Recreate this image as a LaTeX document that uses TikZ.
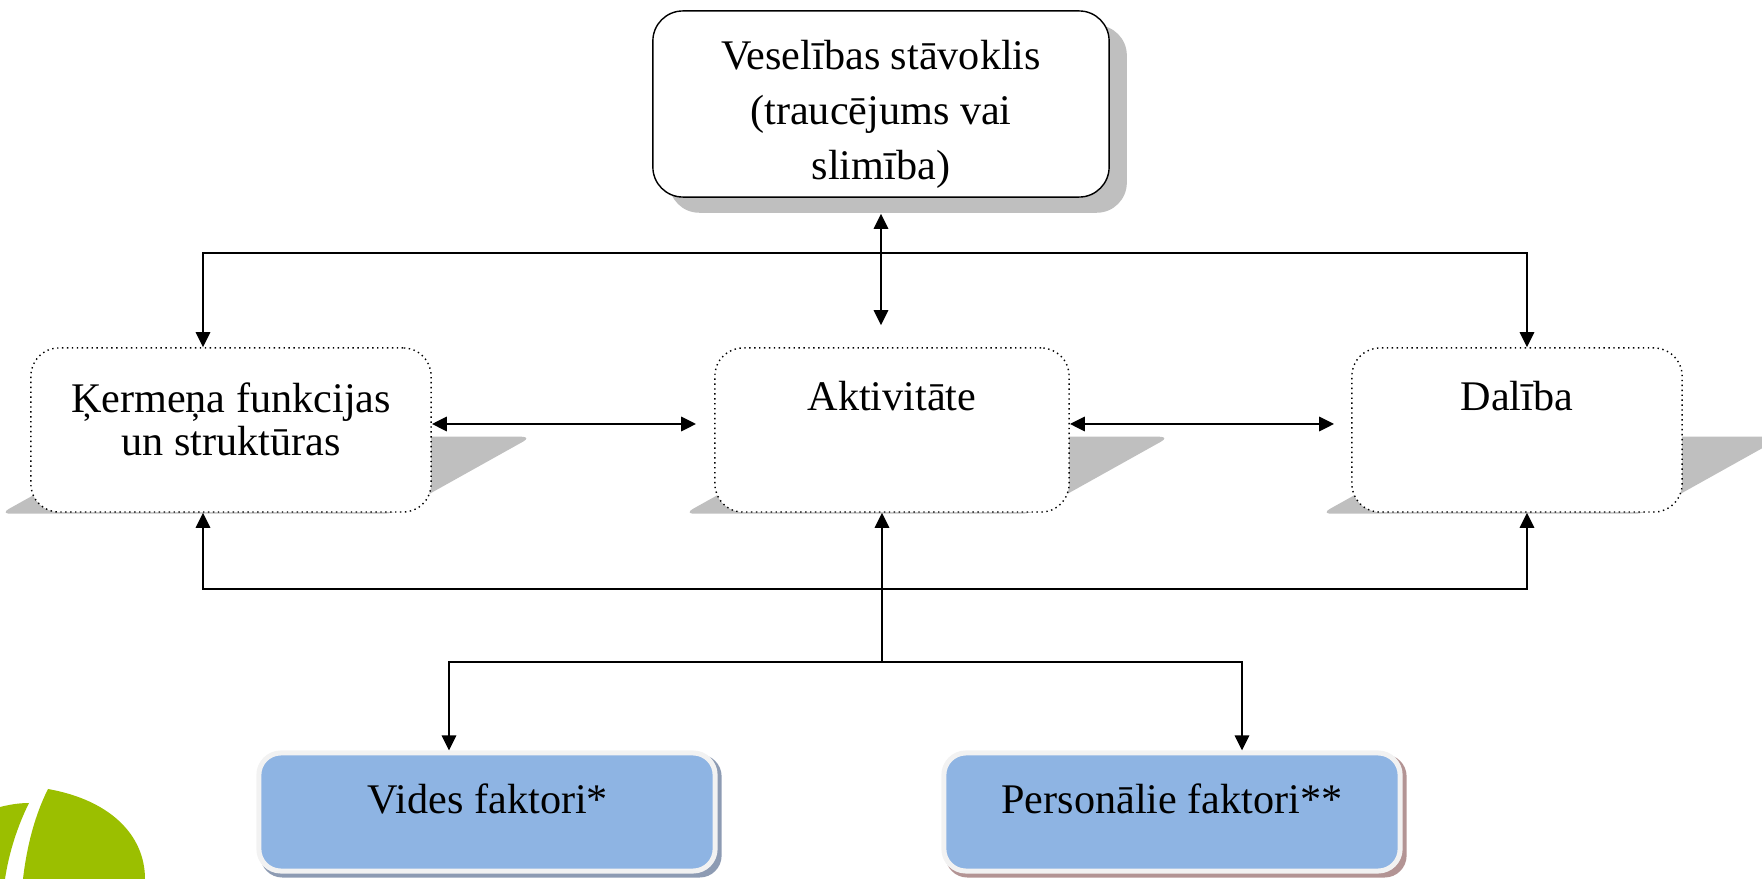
\documentclass[tikz,border=0pt]{standalone}
\usepackage{fontspec}
\setmainfont{Liberation Serif}
\usepackage{tikz}
\usetikzlibrary{arrows.meta,calc,backgrounds}
\definecolor{shadowgray}{HTML}{BFBFBF}
\definecolor{factorblue}{HTML}{8EB4E3}
\definecolor{framegray}{HTML}{F2F2F2}
\definecolor{envshadow}{HTML}{8D9BB3}
\definecolor{persshadow}{HTML}{B39494}
\definecolor{logogreen}{HTML}{9BBF00}
\newcommand{\Ena}[1]{
\fill [shadowgray,rounded corners=0.1cm]
($(#1.south west)+(-30,1)$) -- ($(#1.south east)+(-38,1)$)
-- ($(#1.south east)+(100,-76)$) -- ($(#1.south west)+(108,-76)$) -- cycle;
}

\begin{document}
\begin{tikzpicture}[x=0.01cm,y=-0.01cm,>={Triangle[length=0.15cm,width=0.14cm]},
every node/.style={font=\fontsize{12}{15.6}\selectfont},
lodzins/.style={draw,densely dotted,fill=white,rounded corners=0.28cm,minimum height=1.64cm},
faktors/.style={draw=framegray,line width=0.05cm,fill=factorblue,rounded corners=0.22cm,minimum width=4.56cm,minimum height=1.18cm},
bulta/.style={line width=0.85pt}]
\useasboundingbox (0,0) rectangle (1762,879);

\node[draw,fill=white,rounded corners=0.3cm,minimum width=4.56cm,minimum height=1.86cm] (veseliba) at (881,104) {};
\node[align=center] (veselibaT) at (881,114) {Veselības stāvoklis\\(traucējums vai\\slimība)};
\node[lodzins,minimum width=4cm] (kermenis) at (231,430) {};
\node[lodzins,minimum width=3.54cm] (aktivitate) at (892,430) {};
\node[lodzins,minimum width=3.3cm] (daliba) at (1517,430) {};
\node[align=center,font=\fontsize{12}{12.2}\selectfont] (kermenisT) at (231,419) {Ķermeņa funkcijas\\un struktūras};
\node (aktivitateT) at (892,396) {Aktivitāte};
\node (dalibaT) at (1517,396) {Dalība};
\node[faktors] (vide) at (487,812) {};
\node[faktors] (personalie) at (1172,812) {};
\node (videT) at (488,799) {Vides faktori*};
\node (personalieT) at (1172,799) {Personālie faktori**};

\begin{scope}[on background layer]
\fill[shadowgray,rounded corners=0.3cm] ($(veseliba.south west)+(17,15)$) rectangle ($(veseliba.north east)+(17,15)$);
\Ena{kermenis}
\Ena{aktivitate}
\Ena{daliba}
\fill[envshadow,rounded corners=0.22cm] ($(vide.south west)+(4,4)$) rectangle ($(vide.north east)+(4,4)$);
\fill[persshadow,rounded corners=0.22cm] ($(personalie.south west)+(4,4)$) rectangle ($(personalie.north east)+(4,4)$);
\end{scope}

\coordinate (augsaK) at (203,253);
\coordinate (augsaL) at (1527,253);
\coordinate (apaksaK) at (203,589);
\coordinate (apaksaL) at (1527,589);
\coordinate (zars) at (882,662);
\coordinate (zarsV) at (449,662);
\coordinate (zarsP) at (1242,662);
\draw[bulta,<->] (augsaK |- kermenis.north) -- (augsaK) -- (augsaL) -- (augsaL |- daliba.north);
\draw[bulta,<->,shorten <=0.16cm,shorten >=0.22cm] (veseliba.south) -- (veseliba.south |- aktivitate.north);
\draw[bulta,<->,shorten >=0.18cm] ([yshift=0.06cm]kermenis.east) -- ([yshift=0.06cm]aktivitate.west);
\draw[bulta,<->,shorten >=0.17cm] ([yshift=0.06cm]aktivitate.east) -- ([yshift=0.06cm]daliba.west);
\draw[bulta,<->] (apaksaK |- kermenis.south) -- (apaksaK) -- (apaksaL) -- (apaksaL |- daliba.south);
\draw[bulta,->] (zars) -- (zars |- aktivitate.south);
\draw[bulta,<->] (zarsV |- vide.north) -- (zarsV) -- (zarsP) -- (zarsP |- personalie.north);

\fill[logogreen] (48,789) .. controls (110,800) and (145,835) .. (145,879) -- (23,879) .. controls (27,845) and (35,815) .. (48,789) -- cycle;
\fill[logogreen] (0,807) .. controls (8,805) and (18,803) .. (29,803) .. controls (18,825) and (9,852) .. (5,879) -- (0,879) -- cycle;
\end{tikzpicture}
\end{document}
